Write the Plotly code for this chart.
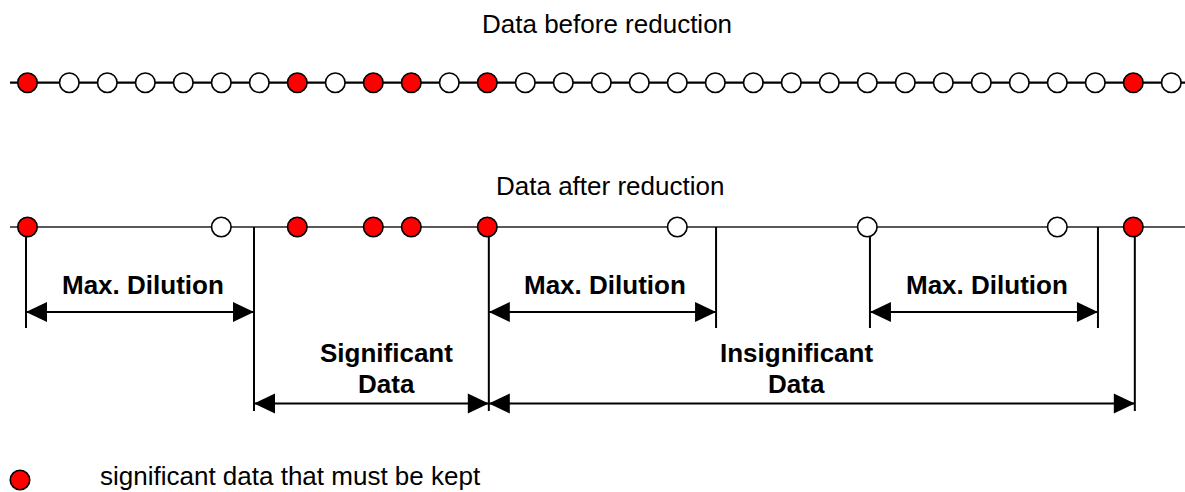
"""
Data reduction diagram: samples before / after reduction with dilution spans.
"""
import plotly.graph_objects as go

# ---- data -------------------------------------------------------------
# sample positions along the time axis (in sample steps)
sample_pos = [-0.1] + list(range(1, 31))
# significant samples in the raw series
significant_idx = [0, 7, 9, 10, 12, 29]
# samples kept after reduction
kept_idx = [0, 5, 7, 9, 10, 12, 17, 22, 27, 29]

# dimension spans (start, end) in sample steps, with label centre
dilution_spans = [(-0.14, 5.86), (12.04, 18.02), (22.07, 28.07)]
dilution_label_x = [2.93, 15.10, 25.15]
data_spans = [(5.86, 12.04), (12.04, 29.04)]
data_labels = ["Significant", "Insignificant"]
data_label_x = [9.36, 20.14]

# boundary ticks: (position, long?)
ticks = [(-0.14, False), (5.86, True), (12.04, True), (18.02, False),
         (22.07, False), (28.07, False), (29.04, True)]

# ---- layout constants (pixels, y downwards) ---------------------------
W, H = 1185, 492
STEP_PX = 38.0
X0_PX = 31.3
ROW_BEFORE = 82.7
ROW_AFTER = 227
DIL_Y = 312
DATA_Y = 403.5
TICK_SHORT = 328
TICK_LONG = 411
ARROW_L = 21 / STEP_PX
ARROW_H = 10
MSIZE = 19.5
RED = "#ff0000"
FONT = "Arial, 'Liberation Sans', sans-serif"

x_lo = -X0_PX / STEP_PX
x_hi = (W - X0_PX) / STEP_PX
x_line0 = (10 - X0_PX) / STEP_PX


def colours(idx_list):
    return [RED if i in significant_idx else "white" for i in idx_list]


fig = go.Figure()

shapes = []
# baselines
shapes.append(dict(type="line", x0=x_line0, x1=x_hi, y0=ROW_BEFORE, y1=ROW_BEFORE,
                   line=dict(color="black", width=2.3), layer="below"))
shapes.append(dict(type="line", x0=x_line0, x1=x_hi, y0=ROW_AFTER, y1=ROW_AFTER,
                   line=dict(color="#222", width=1.6), layer="below"))
# boundary ticks
for pos, long in ticks:
    shapes.append(dict(type="line", x0=pos, x1=pos, y0=ROW_AFTER,
                       y1=TICK_LONG if long else TICK_SHORT,
                       line=dict(color="black", width=2), layer="below"))


def dim_arrow(a, b, y):
    out = [dict(type="line", x0=a, x1=b, y0=y, y1=y,
                line=dict(color="black", width=2), layer="below")]
    out.append(dict(type="path", layer="below", fillcolor="black", line=dict(width=0),
                    path=f"M {a},{y} L {a + ARROW_L},{y - ARROW_H} L {a + ARROW_L},{y + ARROW_H} Z"))
    out.append(dict(type="path", layer="below", fillcolor="black", line=dict(width=0),
                    path=f"M {b},{y} L {b - ARROW_L},{y - ARROW_H} L {b - ARROW_L},{y + ARROW_H} Z"))
    return out


for a, b in dilution_spans:
    shapes += dim_arrow(a, b, DIL_Y)
for a, b in data_spans:
    shapes += dim_arrow(a, b, DATA_Y)

# samples before reduction
all_idx = list(range(len(sample_pos)))
fig.add_trace(go.Scatter(
    x=sample_pos, y=[ROW_BEFORE] * len(sample_pos), mode="markers",
    marker=dict(size=MSIZE, color=colours(all_idx), line=dict(color="black", width=1.6)),
    hoverinfo="skip", showlegend=False))
# samples after reduction
fig.add_trace(go.Scatter(
    x=[sample_pos[i] for i in kept_idx], y=[ROW_AFTER] * len(kept_idx), mode="markers",
    marker=dict(size=MSIZE, color=colours(kept_idx), line=dict(color="black", width=1.6)),
    hoverinfo="skip", showlegend=False))
# legend marker
fig.add_trace(go.Scatter(
    x=[(20 - X0_PX) / STEP_PX], y=[480], mode="markers",
    marker=dict(size=MSIZE, color=RED, line=dict(color="black", width=1.6)),
    hoverinfo="skip", showlegend=False))

ann = []
ann.append(dict(x=(607 - X0_PX) / STEP_PX, y=24, text="Data before reduction",
                font=dict(size=26, color="black", family=FONT)))
ann.append(dict(x=(610 - X0_PX) / STEP_PX, y=186, text="Data after reduction",
                font=dict(size=26, color="black", family=FONT)))
for xc in dilution_label_x:
    ann.append(dict(x=xc, y=285, text="<b>Max. Dilution</b>",
                    font=dict(size=26, color="black", family=FONT)))
for xc, lab in zip(data_label_x, data_labels):
    ann.append(dict(x=xc, y=353, text=f"<b>{lab}</b>", font=dict(size=26, color="black", family=FONT)))
    ann.append(dict(x=xc, y=384, text="<b>Data</b>", font=dict(size=26, color="black", family=FONT)))
ann.append(dict(x=(98 - X0_PX) / STEP_PX, y=476, text="significant data that must be kept",
                xanchor="left", font=dict(size=26, color="black", family=FONT)))
for a in ann:
    a.setdefault("xanchor", "center")
    a.update(xref="x", yref="y", yanchor="middle", showarrow=False)

fig.update_layout(
    width=W, height=H,
    margin=dict(l=0, r=0, t=0, b=0),
    paper_bgcolor="white", plot_bgcolor="white",
    xaxis=dict(range=[x_lo, x_hi], visible=False, fixedrange=True),
    yaxis=dict(range=[H, 0], visible=False, fixedrange=True),
    shapes=shapes, annotations=ann,
)

fig.write_html("out.html", config={"displayModeBar": False},
               post_script="document.body.style.margin='0';")
